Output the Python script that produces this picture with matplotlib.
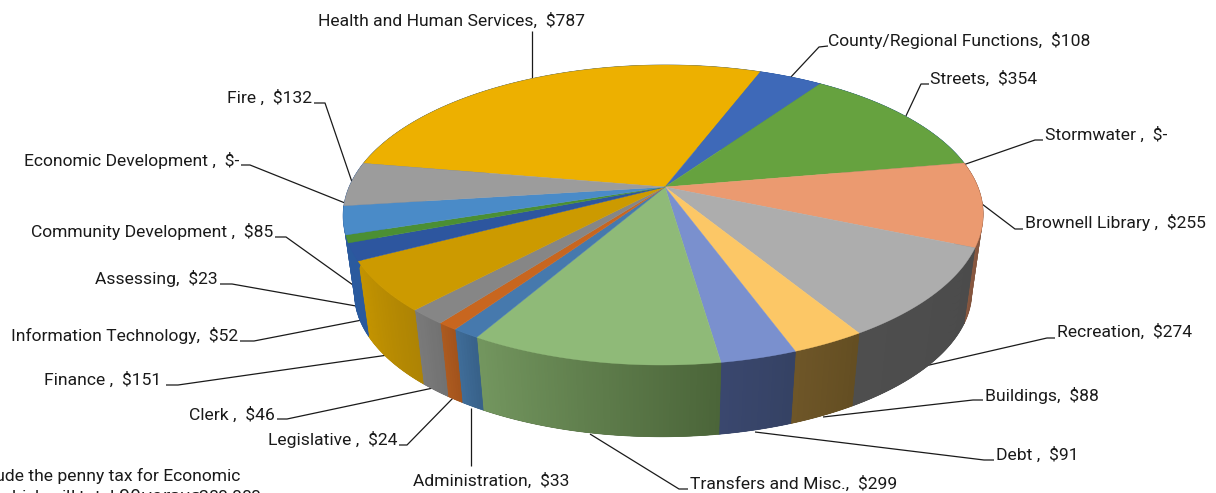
import numpy as np
import matplotlib
matplotlib.use('Agg')
import matplotlib.pyplot as plt
from matplotlib.colors import to_rgb

plt.rcParams['font.family'] = ['Roboto', 'DejaVu Sans']

# budget by department, clockwise from the top-left edge of the pie
departments = ['Health and Human Services', 'County/Regional Functions', 'Streets', 'Stormwater',
               'Brownell Library', 'Recreation', 'Buildings', 'Debt', 'Transfers and Misc.',
               'Administration', 'Legislative', 'Clerk', 'Finance', 'Information Technology',
               'Assessing', 'Community Development', 'Economic Development', 'Fire']
amounts = [787, 108, 354, 0, 255, 274, 88, 91, 299, 33, 24, 46, 151, 52, 23, 85, 0, 132]
name_suffix = ['', '', '', ' ', ' ', '', '', ' ', '', '', ' ', ' ', ' ', '', '', ' ', ' ', ' ']

top_colors = ['#EDB000', '#3E69B8', '#66A23F', '#A5A5A5', '#EB9A70', '#ADADAD', '#FCC766', '#7A90CE',
              '#8FBA78', '#4679AD', '#C8661F', '#868686', '#CC9A00', '#2D569F', '#4B8F33', '#4A8BC8',
              '#9C9C9C', '#9C9C9C']
# wall shade at the clockwise start and end of each slice
wall_start = ['#2A5A9E', '#2A5A9E', '#2A5A9E', '#666666', '#70402A', '#4B4B4B', '#644E22', '#354264',
              '#4B6539', '#38628A', '#A3541C', '#727272', '#AE8404', '#2A5A9E', '#2A5A9E', '#2A5A9E',
              '#2A5A9E', '#2A5A9E']
wall_end = ['#2A5A9E', '#2A5A9E', '#2A5A9E', '#666666', '#8A5A42', '#4E4E4E', '#6E5628', '#3A476E',
            '#73965F', '#3F6C98', '#AC5A20', '#7A7A7A', '#C49400', '#2A5A9E', '#2A5A9E', '#2A5A9E',
            '#2A5A9E', '#2A5A9E']

# projection of the tilted disc, in pixels
APEX_X, APEX_Y = 665, 187
BACK, FRONT = 122, 178
RADIUS_X = 320
START_DEG = -80.3
DEPTH = 78
BASE_SCALE = 0.965

persp = (FRONT - BACK) / (FRONT + BACK)
squash = BACK * (1 + persp)
stretch = RADIUS_X * np.sqrt(1 - persp ** 2)


def rim(theta, scale=1.0, drop=0.0):
    """Screen position of the disc edge at clockwise angle theta (radians from the back)."""
    u, v = np.sin(theta), np.cos(theta)
    w = 1 + persp * v
    lean = -1.5 + 2 * v  # the front of the disc sits a little left of the back
    return APEX_X + lean + scale * stretch * u / w, APEX_Y + drop - scale * squash * v / w


# label text anchor (x, y, ha) and the leader line running to the pie
label_layout = [
    (318, 20.5, 'left', [(532, 31), (532, 78)]),
    (828, 40.5, 'left', [(828, 46), (819, 47), (790, 78)]),
    (930, 78.5, 'left', [(929, 84), (921, 84), (905, 118)]),
    (1045, 134.5, 'left', [(1043, 140), (1035, 140), (963, 165)]),
    (1025, 222.5, 'left', [(1023, 229), (1015, 229), (982, 204)]),
    (1057, 331.5, 'left', [(1055, 338), (1047, 338), (925, 366)]),
    (985, 395.5, 'left', [(983, 400), (973, 400), (823, 417)]),
    (996, 454.5, 'left', [(994, 460), (984, 460), (755, 432)]),
    (690, 483.5, 'left', [(688, 489), (679, 489), (590, 434)]),
    (413, 480.5, 'left', [(471, 466), (471, 408)]),
    (397, 439.5, 'right', [(399, 445), (407, 445), (453, 398)]),
    (275, 414.5, 'right', [(277, 419), (287, 419), (433, 388)]),
    (161, 379.5, 'right', [(166, 385), (178, 385), (388, 355)]),
    (238, 335.5, 'right', [(240, 341), (254, 341), (362, 320)]),
    (218, 278.5, 'right', [(220, 284), (232, 284), (356, 306)]),
    (273, 231.5, 'right', [(275, 237), (286, 237), (353, 285)]),
    (239, 160.5, 'right', [(241, 165), (250, 165), (345, 203)]),
    (312, 97.5, 'right', [(314, 103), (325, 103), (352, 182)]),
]

fig = plt.figure(figsize=(12.16, 4.93), dpi=100)
ax = fig.add_axes([0, 0, 1, 1])
ax.set_xlim(0, 1216)
ax.set_ylim(493, 0)
ax.axis('off')

edges = np.radians(START_DEG + 360 * np.cumsum([0] + amounts) / sum(amounts))

# leader lines sit behind the pie so they stop at its edge
for x, y, ha, path in label_layout:
    ax.plot(*zip(*path), color='#1a1a1a', lw=0.9, zorder=1, solid_capstyle='butt')

# outer wall, a solid slice first and then overlapping strips so the shade can run across it
for i, (a0, a1) in enumerate(zip(edges[:-1], edges[1:])):
    if a1 <= a0:
        continue
    steps = np.linspace(a0, a1, max(2, int(np.degrees(a1 - a0) * 2) + 1))
    xt, yt = rim(steps)
    xb, yb = rim(steps, BASE_SCALE, DEPTH)
    ax.fill(np.r_[xt, xb[::-1]], np.r_[yt, yb[::-1]], color=wall_start[i], lw=0.5, zorder=2)
    c0, c1 = np.array(to_rgb(wall_start[i])), np.array(to_rgb(wall_end[i]))
    for j in range(len(steps) - 1):
        t = steps[j:j + 3]
        xt, yt = rim(t)
        xb, yb = rim(t, BASE_SCALE, DEPTH)
        shade = c0 + (c1 - c0) * j / max(1, len(steps) - 2)
        ax.fill(np.r_[xt, xb[::-1]], np.r_[yt, yb[::-1]], color=shade, lw=0, zorder=2)

# top face
for i, (a0, a1) in enumerate(zip(edges[:-1], edges[1:])):
    if a1 <= a0:
        continue
    t = np.linspace(a0, a1, 120)
    xr, yr = rim(t)
    ax.fill(np.r_[APEX_X, xr], np.r_[APEX_Y, yr], color=top_colors[i], lw=0.3, zorder=3)

for name, sfx, amount, (x, y, ha, path) in zip(departments, name_suffix, amounts, label_layout):
    value = f'${amount}' if amount else '$-'
    ax.text(x, y, f'{name}{sfx},  {value}', ha=ha, va='center', fontsize=12.6, color='#1a1a1a', zorder=5)

# footnote running off the lower-left corner
ax.text(240, 475.5, 'Budgets include the penny tax for Economic', ha='right', va='center',
        fontsize=12.6, color='#1a1a1a', zorder=5)
ax.text(262, 497, 'Development, which will total $90 versus $280,000', ha='right', va='center',
        fontsize=12.6, color='#1a1a1a', zorder=5)

fig.savefig('out.png', dpi=100)
